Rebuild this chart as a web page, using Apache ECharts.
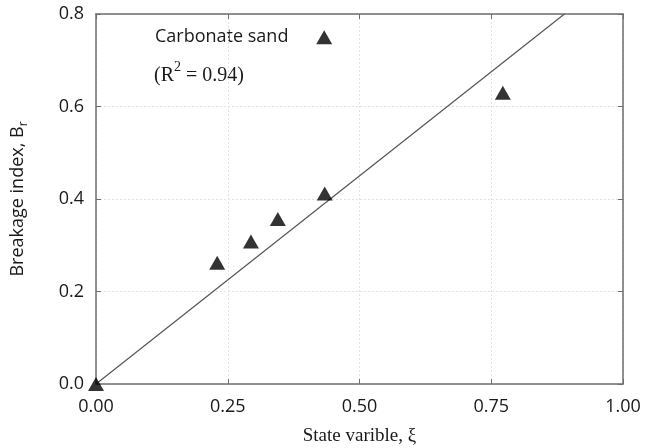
<!DOCTYPE html>
<html>
<head>
<meta charset="utf-8">
<script src="https://cdn.jsdelivr.net/npm/echarts@6/dist/echarts.min.js"></script>
<style>
  html, body { margin: 0; padding: 0; background: #fff; }
  #chart { width: 654px; height: 448px; }
</style>
</head>
<body>
<div id="chart"></div>
<script>
// Measured state variable vs. breakage index for carbonate sand
const stateVariable = [0.0, 0.230, 0.294, 0.345, 0.434, 0.433, 0.772];
const breakageIndex = [0.0, 0.262, 0.308, 0.357, 0.412, 0.750, 0.630];

// Linear fit through the origin, Br = k * xi
const fitSlope = 0.9;
const fitX = [0, 0.8 / fitSlope];

const xTicks = ['0.00', '0.25', '0.50', '0.75', '1.00'];
const yTicks = ['0.0', '0.2', '0.4', '0.6', '0.8'];

const points = stateVariable.map((x, i) => [x, breakageIndex[i]]);
const fitLine = fitX.map(x => [x, fitSlope * x]);

const sans = 'Open Sans';
const serif = 'Liberation Serif';
const axisGray = '#6e6e6e';
const ink = '#1a1a1a';

const chart = echarts.init(document.getElementById('chart'));

const tickStyle = { show: true, inside: true, length: 5, lineStyle: { color: axisGray, width: 1 } };

chart.setOption({
  animation: false,
  grid: { left: 96, right: 31, top: 14, bottom: 64, containLabel: false, outerBoundsMode: 'none' },
  xAxis: [
    {
      type: 'value', min: 0, max: 1, interval: 0.25,
      axisLine: { show: true, onZero: false, lineStyle: { color: axisGray, width: 1.5 } },
      axisTick: tickStyle,
      axisLabel: {
        color: ink, fontFamily: sans, fontSize: 18, margin: 14,
        formatter: v => xTicks[Math.round(v / 0.25)]
      },
      splitLine: { show: true, lineStyle: { color: '#e2e2e2', type: [2, 2], width: 1 } },
      name: 'State varible, ξ',
      nameLocation: 'middle', nameGap: 43,
      nameTextStyle: { color: ink, fontFamily: serif, fontSize: 19 }
    },
    {
      type: 'value', position: 'top', min: 0, max: 1, interval: 0.25,
      axisLine: { show: true, onZero: false, lineStyle: { color: axisGray, width: 1.5 } },
      axisTick: tickStyle, axisLabel: { show: false }, splitLine: { show: false }
    }
  ],
  yAxis: [
    {
      type: 'value', min: 0, max: 0.8, interval: 0.2,
      axisLine: { show: true, onZero: false, lineStyle: { color: axisGray, width: 1.5 } },
      axisTick: tickStyle,
      axisLabel: {
        color: ink, fontFamily: sans, fontSize: 18, margin: 12,
        formatter: v => yTicks[Math.round(v / 0.2)]
      },
      splitLine: { show: true, lineStyle: { color: '#e2e2e2', type: [2, 2], width: 1 } },
      name: '{t|Breakage index, B}{s|r}',
      nameLocation: 'middle', nameGap: 66, nameRotate: 90,
      nameTextStyle: {
        rich: {
          t: { fontFamily: sans, fontSize: 18, color: ink, lineHeight: 24, verticalAlign: 'middle' },
          s: { fontFamily: sans, fontSize: 12, color: ink, lineHeight: 24, verticalAlign: 'bottom' }
        }
      }
    },
    {
      type: 'value', position: 'right', min: 0, max: 0.8, interval: 0.2,
      axisLine: { show: true, onZero: false, lineStyle: { color: axisGray, width: 1.5 } },
      axisTick: tickStyle, axisLabel: { show: false }, splitLine: { show: false }
    }
  ],
  series: [
    {
      name: 'Fit', type: 'line', data: fitLine, showSymbol: false, symbol: 'none',
      lineStyle: { color: '#555', width: 1.2 }, z: 2, silent: true
    },
    {
      name: 'Carbonate sand', type: 'scatter', data: points,
      symbol: 'triangle', symbolSize: [16, 14],
      itemStyle: { color: '#000' }, z: 3
    }
  ],
  graphic: [
    {
      type: 'text', left: 155, top: 28,
      style: { text: 'Carbonate sand', font: '18px "Open Sans"', fill: ink }
    },
    {
      type: 'text', left: 154, top: 60,
      style: {
        text: '{t|(R}{p|2}{t| = 0.94)}',
        rich: {
          t: { fontFamily: serif, fontSize: 20, fill: ink, lineHeight: 26, verticalAlign: 'bottom' },
          p: { fontFamily: serif, fontSize: 14, fill: ink, lineHeight: 26, verticalAlign: 'top' }
        }
      }
    }
  ]
});
</script>
</body>
</html>
